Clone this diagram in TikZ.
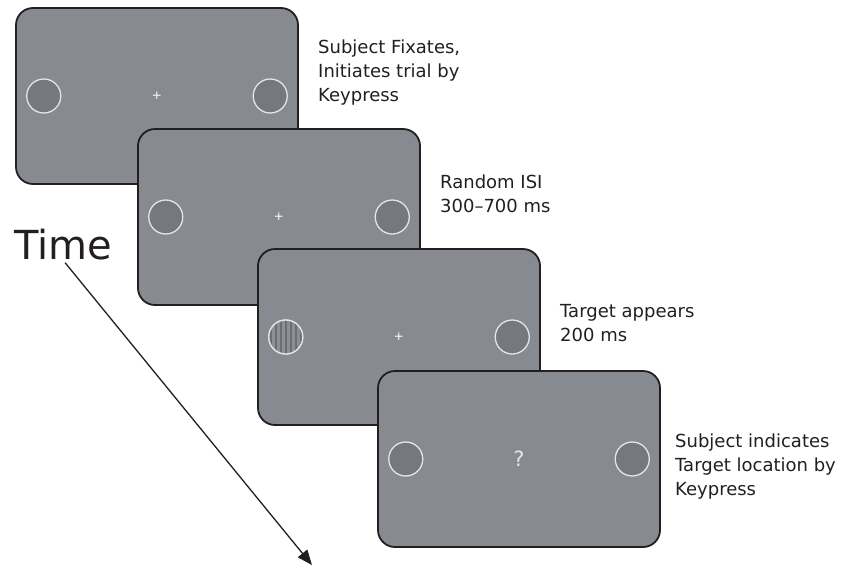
\documentclass[tikz,border=0pt]{standalone}
\usepackage{fontspec}
\setmainfont{DejaVu Sans}
\usetikzlibrary{positioning,arrows.meta}
\definecolor{screengray}{HTML}{878B91}
\definecolor{framedark}{HTML}{231F20}
\definecolor{patchgray}{HTML}{75787D}
\definecolor{ringwhite}{HTML}{E4E5E6}
\definecolor{stripedark}{HTML}{6B6E73}
\definecolor{stripelight}{HTML}{8C8F94}

\begin{document}
\begin{tikzpicture}[x=1pt, y=-1pt,
  screen/.style={draw=framedark, fill=screengray, line width=1.8pt, rounded corners=17pt,
                 minimum width=282pt, minimum height=176pt, inner sep=0pt},
  patch/.style={circle, draw=ringwhite, fill=patchgray, line width=1.3pt,
                minimum size=34pt, inner sep=0pt},
  fix/.style={text=white, font=\fontsize{12}{12}\selectfont, inner sep=0pt},
  desc/.style={anchor=north west, align=left, inner sep=0pt, text=framedark,
               font=\fontsize{18}{24}\selectfont},
  timearr/.style={-{Triangle[length=15pt,width=12pt]}, line width=1.3pt, color=framedark}
]
\useasboundingbox (0,0) rectangle (861,568);

% screen 1: fixation
\node[screen] (scr1) at (157,96) {};
\node[patch, right=11pt of scr1.west, anchor=west] (scr1l) {};
\node[patch, left=11pt of scr1.east, anchor=east] (scr1r) {};
\node[fix] (fix1) at (scr1) {+};
\node[desc] (txt1) at (318,40) {Subject Fixates,\\Initiates trial by\\Keypress};

% screen 2: random ISI
\node[screen] (scr2) at (279,217) {};
\node[patch, right=11pt of scr2.west, anchor=west] (scr2l) {};
\node[patch, left=11pt of scr2.east, anchor=east] (scr2r) {};
\node[fix] (fix2) at (scr2) {+};
\node[desc] (txt2) at (440,175) {Random ISI\\300--700 ms};

% screen 3: target
\node[screen] (scr3) at (399,337) {};
\node[patch, right=11pt of scr3.west, anchor=west] (scr3l) {};
\begin{scope}
  \clip (scr3l.center) circle (17pt);
  \fill[stripelight] (scr3l.center) circle (17pt);
  \foreach \dx in {-15,-10,...,15}
    \draw[stripedark, line width=1.8pt] ([xshift=\dx pt]scr3l.north) -- ([xshift=\dx pt]scr3l.south);
\end{scope}
\draw[ringwhite, line width=1.3pt] (scr3l.center) circle (17pt);
\node[patch, left=11pt of scr3.east, anchor=east] (scr3r) {};
\node[fix] (fix3) at (scr3) {+};
\node[desc] (txt3) at (560,304) {Target appears\\200 ms};

% screen 4: response
\node[screen] (scr4) at (519,459) {};
\node[patch, right=11pt of scr4.west, anchor=west] (scr4l) {};
\node[patch, left=11pt of scr4.east, anchor=east] (scr4r) {};
\node[fix, font=\fontsize{21}{21}\selectfont, text=ringwhite] (resp) at (scr4) {?};
\node[desc] (txt4) at (675,434) {Subject indicates\\Target location by\\Keypress};

% time axis
\node[anchor=base west, inner sep=1pt, text=framedark, font=\fontsize{40}{40}\selectfont] (time) at (13,259) {Time};
\coordinate (tend) at (312,565);
\draw[timearr] ([xshift=2pt,yshift=-2pt]time.south) -- (tend);
\end{tikzpicture}
\end{document}
